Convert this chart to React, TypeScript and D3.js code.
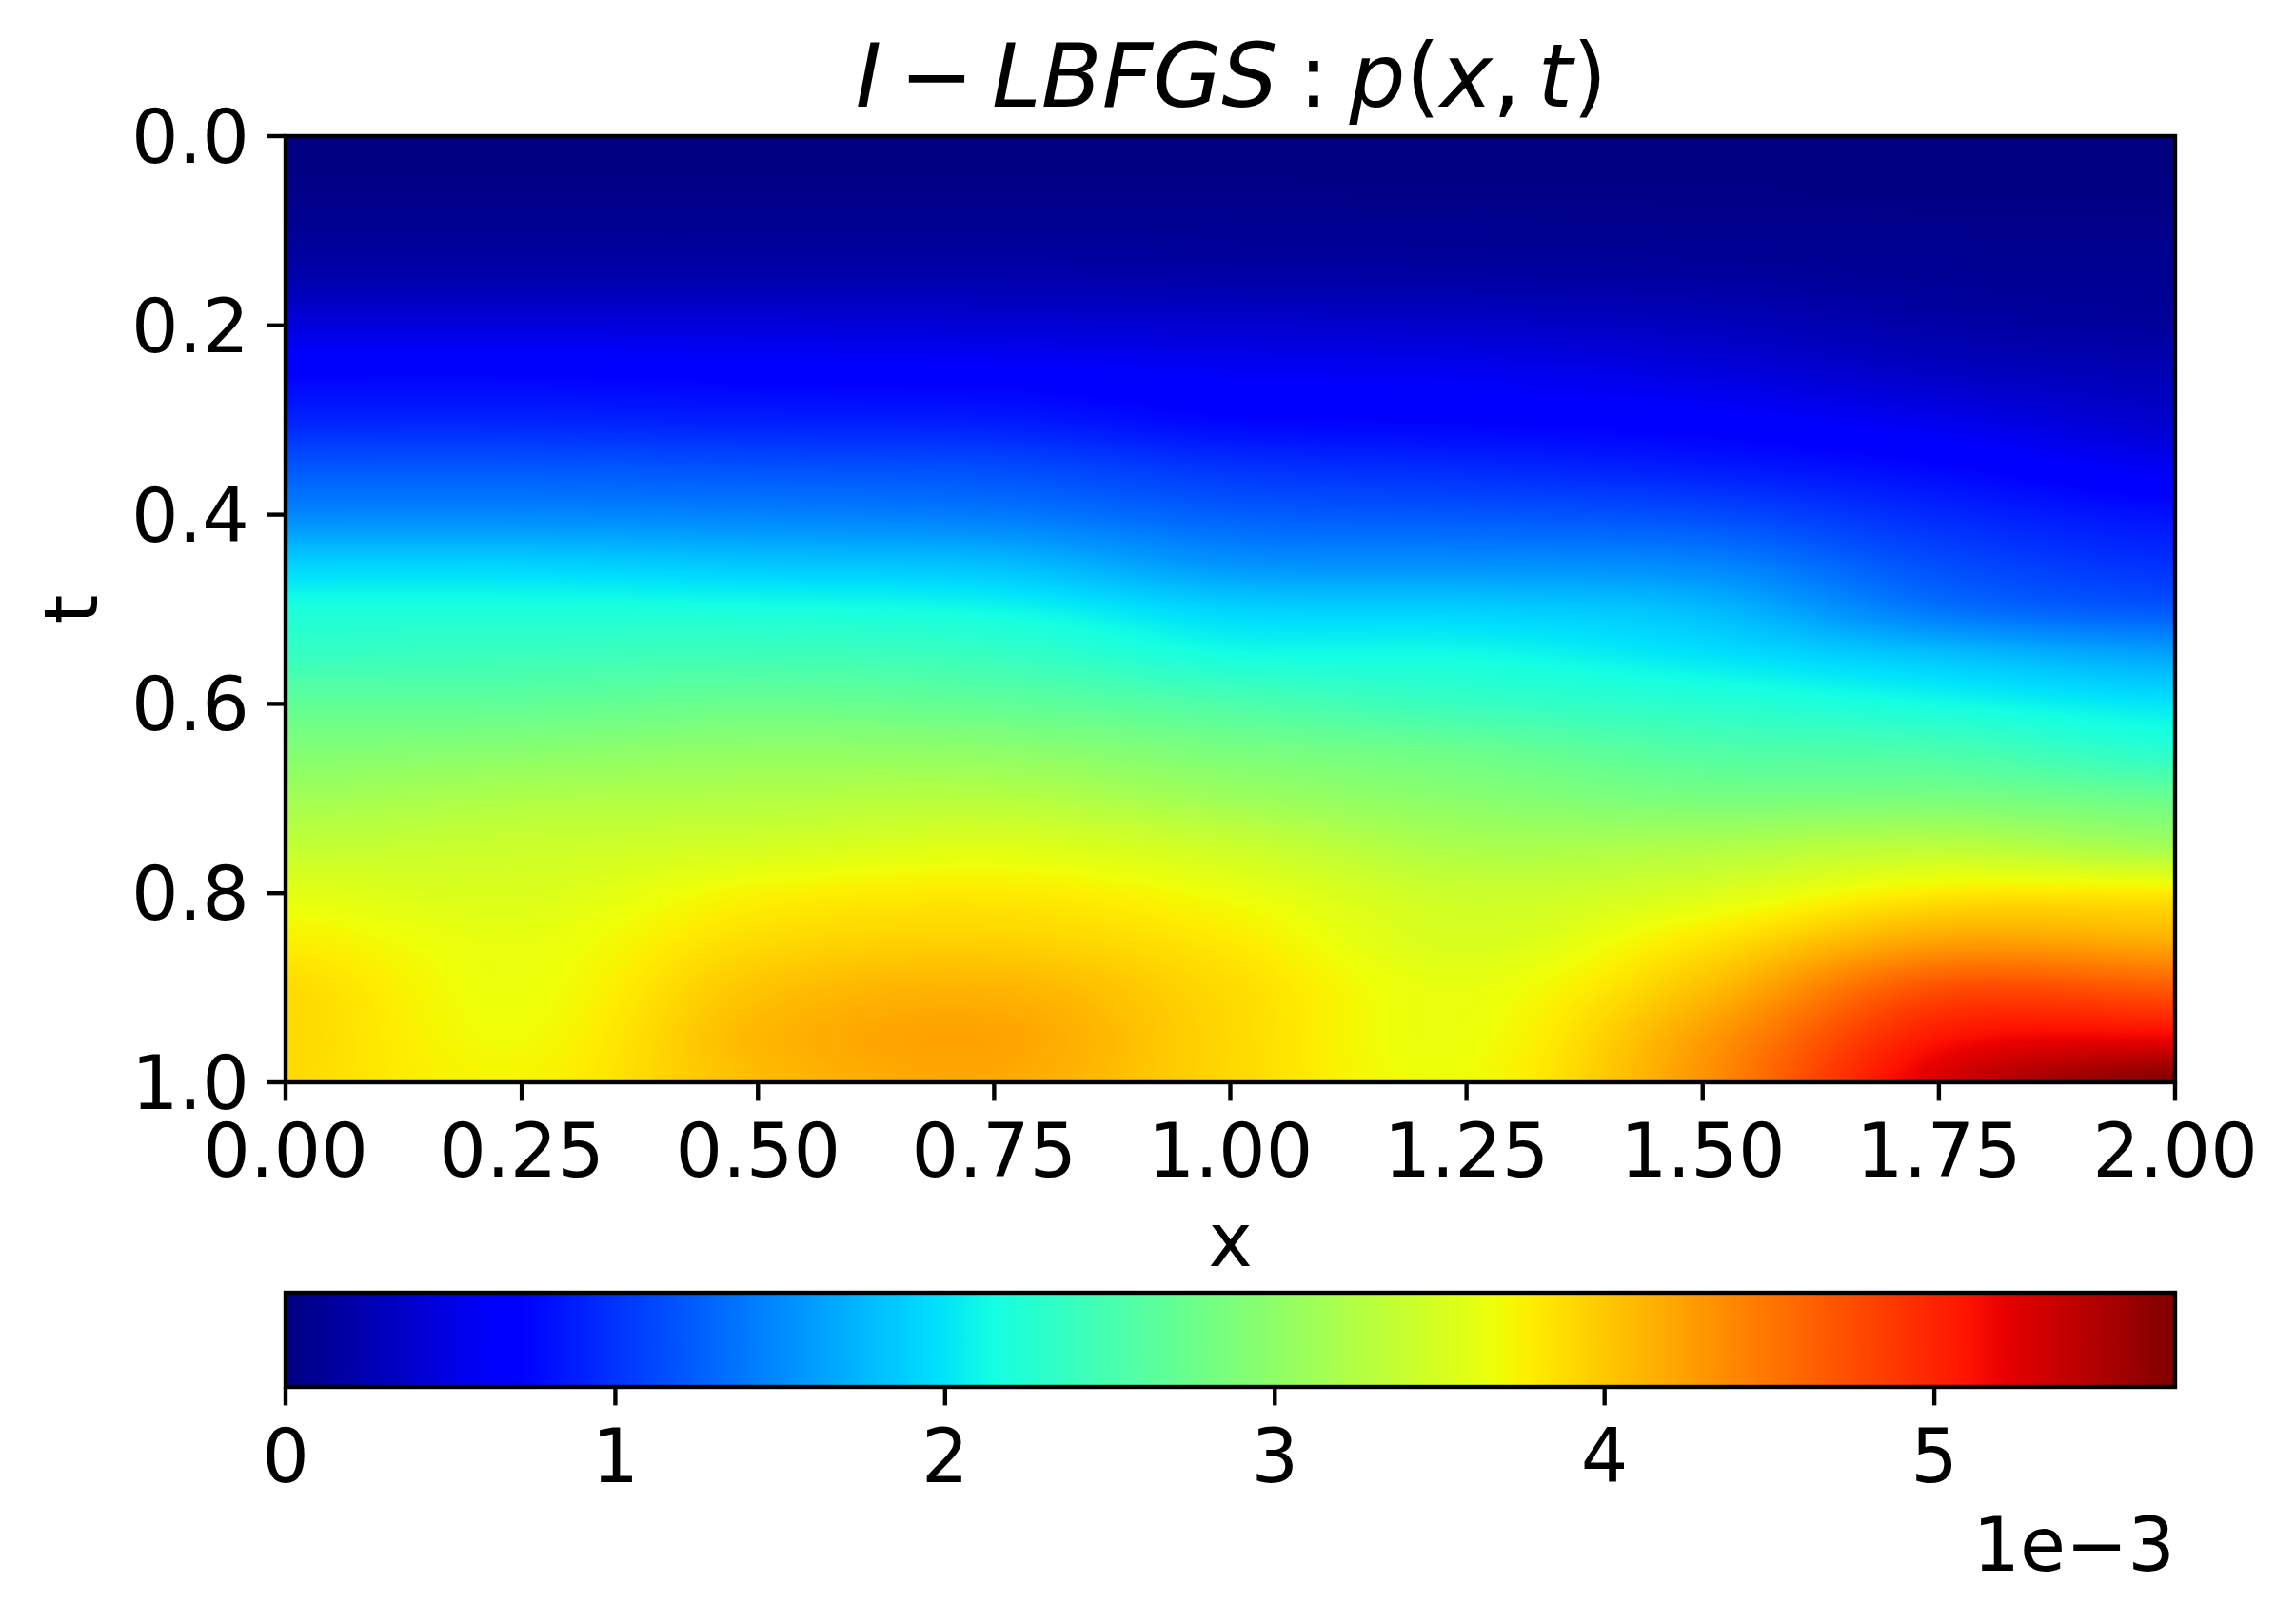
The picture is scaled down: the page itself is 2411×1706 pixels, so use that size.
import React, { useMemo } from 'react';
import * as d3 from 'd3';

// ---------- data ----------
// grid coordinates
const xGrid = [0, 0.25, 0.5, 0.75, 1.0, 1.25, 1.5, 1.75, 2.0];
const tGrid = [0, 0.05, 0.1, 0.15, 0.2, 0.25, 0.3, 0.35, 0.4, 0.45, 0.5, 0.55, 0.6, 0.65, 0.7, 0.75, 0.8, 0.85, 0.9, 0.95, 1.0];
// p(x,t) in units of 1e-3, one row per t (top to bottom), one column per x
const pValues = [
  [0.00, 0.00, 0.00, 0.00, 0.00, 0.00, 0.00, 0.00, 0.00],
  [0.03, 0.03, 0.03, 0.03, 0.03, 0.02, 0.02, 0.01, 0.01],
  [0.11, 0.11, 0.11, 0.11, 0.10, 0.09, 0.07, 0.06, 0.05],
  [0.23, 0.23, 0.23, 0.23, 0.20, 0.18, 0.16, 0.11, 0.09],
  [0.46, 0.46, 0.46, 0.43, 0.40, 0.37, 0.31, 0.20, 0.14],
  [0.71, 0.71, 0.68, 0.66, 0.60, 0.57, 0.48, 0.34, 0.26],
  [0.91, 0.91, 0.88, 0.86, 0.74, 0.71, 0.66, 0.54, 0.38],
  [1.20, 1.20, 1.17, 1.14, 1.00, 0.94, 0.86, 0.74, 0.57],
  [1.48, 1.48, 1.45, 1.40, 1.25, 1.20, 1.14, 0.94, 0.80],
  [1.88, 1.88, 1.82, 1.77, 1.54, 1.51, 1.45, 1.14, 0.97],
  [2.19, 2.19, 2.17, 2.11, 1.91, 1.88, 1.77, 1.37, 1.20],
  [2.39, 2.42, 2.45, 2.39, 2.17, 2.14, 2.00, 1.82, 1.65],
  [2.68, 2.68, 2.74, 2.68, 2.54, 2.39, 2.28, 2.14, 2.00],
  [2.91, 2.96, 3.02, 2.99, 2.85, 2.74, 2.57, 2.51, 2.28],
  [3.14, 3.22, 3.25, 3.28, 3.11, 2.96, 2.85, 2.85, 2.74],
  [3.36, 3.42, 3.48, 3.56, 3.42, 3.19, 3.22, 3.31, 3.14],
  [3.59, 3.53, 3.73, 3.79, 3.65, 3.42, 3.53, 3.79, 3.79],
  [3.76, 3.62, 3.88, 3.94, 3.79, 3.51, 3.82, 4.22, 4.16],
  [3.88, 3.65, 4.02, 4.12, 3.88, 3.62, 4.05, 4.73, 4.67],
  [3.90, 3.68, 4.10, 4.22, 3.90, 3.65, 4.25, 5.07, 5.16],
  [3.88, 3.73, 4.07, 4.19, 3.90, 3.68, 4.33, 5.30, 5.73],
];
const xTicks = [0, 0.25, 0.5, 0.75, 1.0, 1.25, 1.5, 1.75, 2.0];
const tTicks = [0, 0.2, 0.4, 0.6, 0.8, 1.0];
const cbTicks = [0, 1, 2, 3, 4, 5];
const cbExponent = '1e\u22123';
const titleParts = ['I', '\u2212', 'LBFGS', ':', 'p', '(', 'x', ',', 't', ')'];

// jet colormap (matplotlib)
const jetPos = [0, 0.11, 0.125, 0.34, 0.35, 0.375, 0.64, 0.65, 0.66, 0.89, 0.91, 1];
const jetColors = [
  'rgb(0,0,128)', 'rgb(0,0,255)', 'rgb(0,0,255)', 'rgb(0,219,255)', 'rgb(0,230,247)',
  'rgb(21,255,226)', 'rgb(238,255,8)', 'rgb(247,246,0)', 'rgb(255,236,0)',
  'rgb(255,19,0)', 'rgb(232,0,0)', 'rgb(128,0,0)',
];

// ---------- layout ----------
const W = 2411;
const H = 1706;
const L = 300, R = 2285, T = 143, B = 1137;
const CB_T = 1358, CB_B = 1457;
const LW = 4.4;
const TICK = 19.4;
const FONT = 'DejaVu Sans';
const FS = 78;

function crWeights(s: number) {
  const s2 = s * s, s3 = s2 * s;
  return [
    0.5 * (-s + 2 * s2 - s3),
    0.5 * (2 - 5 * s2 + 3 * s3),
    0.5 * (s + 4 * s2 - 3 * s3),
    0.5 * (-s2 + s3),
  ];
}

function sampler(fi: number, n: number) {
  const i = Math.max(0, Math.min(n - 2, Math.floor(fi)));
  const s = fi - i;
  const idx = [i - 1, i, i + 1, i + 2].map((k) => Math.max(0, Math.min(n - 1, k)));
  return { idx, w: crWeights(s) };
}

export default function App() {
  const vmax = d3.max(pValues.flat()) as number;
  const xScale = d3.scaleLinear().domain([0, 2]).range([L, R]);
  const tScale = d3.scaleLinear().domain([0, 1]).range([T, B]);
  const cbScale = d3.scaleLinear().domain([0, vmax]).range([L, R]);
  const color = d3
    .scaleLinear<string>()
    .domain(jetPos.map((p) => p * vmax))
    .range(jetColors)
    .interpolate(d3.interpolateRgb)
    .clamp(true);

  const url = useMemo(() => {
    const w = R - L;
    const h = B - T;
    const canvas = document.createElement('canvas');
    canvas.width = w;
    canvas.height = h;
    const ctx = canvas.getContext('2d')!;
    const img = ctx.createImageData(w, h);
    const nx = xGrid.length, nt = tGrid.length;
    const xIdx = d3.scaleLinear().domain([xGrid[0], xGrid[nx - 1]]).range([0, nx - 1]);
    const tIdx = d3.scaleLinear().domain([tGrid[0], tGrid[nt - 1]]).range([0, nt - 1]);
    const N = 1024;
    const lut = new Uint8Array(N * 3);
    for (let k = 0; k < N; k++) {
      const c = d3.rgb(color((k / (N - 1)) * vmax));
      lut[k * 3] = c.r; lut[k * 3 + 1] = c.g; lut[k * 3 + 2] = c.b;
    }
    const colS = [];
    for (let i = 0; i < w; i++) colS.push(sampler(xIdx(xScale.invert(L + i + 0.5)), nx));
    const rowsX: Float64Array[] = [];
    for (let r = 0; r < nt; r++) {
      const arr = new Float64Array(w);
      const row = pValues[r];
      for (let i = 0; i < w; i++) {
        const { idx, w: wt } = colS[i];
        arr[i] = wt[0] * row[idx[0]] + wt[1] * row[idx[1]] + wt[2] * row[idx[2]] + wt[3] * row[idx[3]];
      }
      rowsX.push(arr);
    }
    const d = img.data;
    for (let j = 0; j < h; j++) {
      const { idx, w: wt } = sampler(tIdx(tScale.invert(T + j + 0.5)), nt);
      const a0 = rowsX[idx[0]], a1 = rowsX[idx[1]], a2 = rowsX[idx[2]], a3 = rowsX[idx[3]];
      for (let i = 0; i < w; i++) {
        let v = wt[0] * a0[i] + wt[1] * a1[i] + wt[2] * a2[i] + wt[3] * a3[i];
        if (v < 0) v = 0;
        if (v > vmax) v = vmax;
        const k = Math.round((v / vmax) * (N - 1));
        const o = (j * w + i) * 4;
        d[o] = lut[k * 3]; d[o + 1] = lut[k * 3 + 1]; d[o + 2] = lut[k * 3 + 2]; d[o + 3] = 255;
      }
    }
    ctx.putImageData(img, 0, 0);
    return canvas.toDataURL('image/png');
  }, []);

  const fx = d3.format('.2f');
  const ft = d3.format('.1f');
  const fc = d3.format('d');

  return (
    <svg
      width={W}
      height={H}
      viewBox={`0 0 ${W} ${H}`}
      style={{ position: 'absolute', left: 0, top: 0, background: '#fff' }}
      fontFamily={FONT}
    >
      <rect x={0} y={0} width={W} height={H} fill="#fff" />
      {/* title */}
      <text x={(L + R) / 2 + 1} y={112} textAnchor="middle" fontSize={93} fill="#000">
        <tspan fontStyle="italic">{titleParts[0]}</tspan>
        <tspan dx={19}>{titleParts[1]}</tspan>
        <tspan dx={19} fontStyle="italic">{titleParts[2]}</tspan>
        <tspan dx={22}>{titleParts[3]}</tspan>
        <tspan dx={22} fontStyle="italic">{titleParts[4]}</tspan>
        <tspan>{titleParts[5]}</tspan>
        <tspan fontStyle="italic">{titleParts[6]}</tspan>
        <tspan>{titleParts[7]}</tspan>
        <tspan dx={18} fontStyle="italic">{titleParts[8]}</tspan>
        <tspan>{titleParts[9]}</tspan>
      </text>

      {/* heatmap */}
      <image href={url} x={L} y={T} width={R - L} height={B - T} preserveAspectRatio="none" />
      <rect x={L} y={T} width={R - L} height={B - T} fill="none" stroke="#000" strokeWidth={LW} />

      {/* x axis */}
      {xTicks.map((v) => (
        <g key={'x' + v}>
          <line x1={xScale(v)} x2={xScale(v)} y1={B} y2={B + TICK} stroke="#000" strokeWidth={LW} />
          <text x={xScale(v)} y={1236} textAnchor="middle" fontSize={FS}>{fx(v)}</text>
        </g>
      ))}
      <text x={(L + R) / 2} y={1330} textAnchor="middle" fontSize={FS}>x</text>

      {/* y axis */}
      {tTicks.map((v) => (
        <g key={'t' + v}>
          <line x1={L - TICK} x2={L} y1={tScale(v)} y2={tScale(v)} stroke="#000" strokeWidth={LW} />
          <text x={262} y={tScale(v) + 28} textAnchor="end" fontSize={FS}>{ft(v)}</text>
        </g>
      ))}
      <text transform={`translate(102,${(T + B) / 2}) rotate(-90)`} textAnchor="middle" fontSize={FS}>t</text>

      {/* colorbar */}
      <defs>
        <linearGradient id="jetGrad" x1="0" x2="1" y1="0" y2="0">
          {jetPos.map((p, i) => (
            <stop key={i} offset={p} stopColor={jetColors[i]} />
          ))}
        </linearGradient>
      </defs>
      <rect x={L} y={CB_T} width={R - L} height={CB_B - CB_T} fill="url(#jetGrad)" stroke="#000" strokeWidth={LW} />
      {cbTicks.map((v) => (
        <g key={'c' + v}>
          <line x1={cbScale(v)} x2={cbScale(v)} y1={CB_B} y2={CB_B + TICK} stroke="#000" strokeWidth={LW} />
          <text x={cbScale(v)} y={1557} textAnchor="middle" fontSize={FS}>{fc(v)}</text>
        </g>
      ))}
      <text x={R} y={1650} textAnchor="end" fontSize={FS}>{cbExponent}</text>
    </svg>
  );
}
